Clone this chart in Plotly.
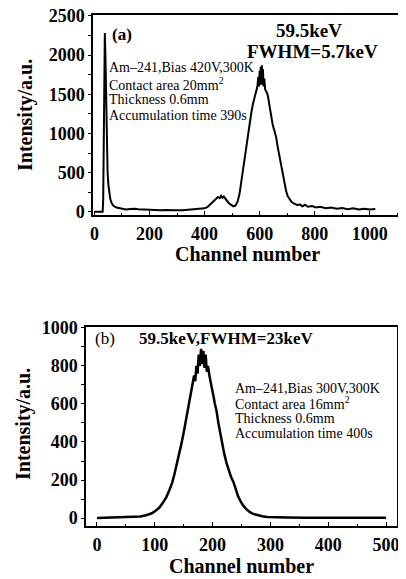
import plotly.graph_objects as go

# ---------------- data: panel (a) ----------------
a_channel = [0, 30, 32, 34, 36, 38, 40, 42, 44, 46, 48, 51, 54, 58, 63, 70, 80, 90, 100,
             115, 130, 145, 160, 180, 200, 220, 240, 260, 280, 300, 320, 340, 360, 380,
             400, 410, 420, 430, 440, 448, 455, 460, 465, 470, 478, 486, 494, 500, 505,
             512, 520, 527, 533, 540, 547, 553, 558, 564, 570, 576, 582, 588, 592, 595,
             598, 600, 602, 604, 606, 608, 610, 612, 614, 617, 620, 625, 630, 636, 642,
             648, 654, 660, 666, 672, 678, 684, 690, 696, 702, 708, 715, 722, 730, 738,
             746, 755, 765, 775, 790, 805, 820, 840, 860, 880, 900, 920, 940, 960, 980,
             1000, 1020]
a_counts = [0, 0, 150, 900, 1900, 2280, 2000, 1450, 950, 680, 500, 340, 240, 160, 110, 75, 55, 45, 35,
            30, 35, 40, 32, 28, 30, 25, 22, 25, 20, 22, 20, 25, 28, 35,
            45, 60, 90, 120, 160, 190, 175, 205, 180, 195, 150, 120, 95, 80, 70,
            80, 130, 230, 380, 560, 750, 900, 1020, 1150, 1270, 1380, 1470, 1520, 1600, 1720,
            1600, 1800, 1650, 1850, 1620, 1870, 1640, 1820, 1600, 1700, 1560, 1530, 1480, 1350, 1200,
            1100, 1030, 950, 820, 700, 580, 470, 360, 270, 200, 160, 130, 110, 100, 85,
            95, 70, 90, 65, 75, 55, 65, 45, 55, 40, 50, 35, 45, 30, 40,
            30, 35]

# ---------------- data: panel (b) ----------------
b_channel = [0, 20, 40, 60, 75, 85, 95, 102, 108, 114, 120, 125, 130, 134, 138, 142, 146, 150,
             154, 158, 162, 165, 168, 170, 172, 174, 176, 178, 180, 182, 184, 186, 188, 190,
             192, 195, 198, 201, 204, 207, 210, 213, 216, 220, 224, 228, 232, 236, 240, 244,
             248, 253, 258, 264, 270, 278, 286, 295, 310, 330, 360, 400, 450, 500]
b_counts = [0, 2, 3, 5, 8, 15, 25, 40, 55, 80, 110, 145, 185, 230, 280, 330, 390, 450,
            520, 590, 650, 700, 750, 720, 800, 760, 860, 800, 890, 810, 880, 790, 860, 770,
            800, 740, 700, 650, 600, 560, 500, 450, 400, 340, 290, 245, 215, 190, 150, 115,
            90, 65, 48, 32, 22, 14, 9, 6, 4, 3, 2, 2, 2, 2]

a_xticks = [0, 200, 400, 600, 800, 1000]
a_yticks = [0, 500, 1000, 1500, 2000, 2500]
b_xticks = [0, 100, 200, 300, 400, 500]
b_yticks = [0, 200, 400, 600, 800, 1000]

# page body has an 8px margin: size the figure to fit and offset coordinates
OFF = 8
W, H = 406 - OFF, 579 - OFF
FONT = "Liberation Serif"

def px(x):
    return (x - OFF) / W

def py(y):
    return 1 - (y - OFF) / H

fig = go.Figure()
fig.add_trace(go.Scatter(x=a_channel, y=a_counts, mode="lines",
                         line=dict(color="black", width=2.0), xaxis="x", yaxis="y",
                         showlegend=False, hoverinfo="skip"))
fig.add_trace(go.Scatter(x=b_channel, y=b_counts, mode="lines",
                         line=dict(color="black", width=2.5), xaxis="x2", yaxis="y2",
                         showlegend=False, hoverinfo="skip"))

tickfont = dict(family=FONT, size=18, color="black", weight="bold")
common = dict(showline=True, linecolor="black", linewidth=1.5, mirror=True,
              showgrid=False, zeroline=False, tickcolor="black", tickwidth=1.2,
              tickfont=tickfont, automargin=False, ticklabeloverflow="allow")

fig.update_layout(
    width=W, height=H,
    margin=dict(l=0, r=0, t=0, b=0),
    paper_bgcolor="white", plot_bgcolor="white",
    xaxis=dict(domain=[px(93), px(399)], range=[-5, 1106], tickvals=a_xticks,
               ticks="inside", ticklen=4, ticklabelstandoff=2,
               minor=dict(dtick=100, ticks="inside", ticklen=2, tickcolor="black"),
               anchor="y", **common),
    yaxis=dict(domain=[py(215), py(15)], range=[-40, 2510], tickvals=a_yticks,
               ticks="outside", ticklen=3,
               minor=dict(dtick=250, ticks="outside", ticklen=3, tickcolor="black"),
               anchor="x", **common),
    xaxis2=dict(domain=[px(86), px(397)], range=[-19, 519], tickvals=b_xticks,
                ticks="inside", ticklen=4, ticklabelstandoff=2,
                minor=dict(dtick=50, ticks="inside", ticklen=2, tickcolor="black"),
                anchor="y2", **common),
    yaxis2=dict(domain=[py(526), py(327)], range=[-42, 1005], tickvals=b_yticks,
                ticks="outside", ticklen=3,
                minor=dict(dtick=100, ticks="outside", ticklen=3, tickcolor="black"),
                anchor="x2", **common),
)

def ann(text, x, y, size, bold=False, xanchor="center", angle=0):
    fig.add_annotation(text=text, x=px(x), y=py(y), xref="paper", yref="paper",
                       xanchor=xanchor, yanchor="middle", showarrow=False, textangle=angle,
                       font=dict(family=FONT, size=size, color="black",
                                 weight="bold" if bold else "normal"))

# panel (a) texts
ann("(a)", 122, 34, 17, bold=True)
ann("59.5keV", 309, 31, 19, bold=True)
ann("FWHM=5.7keV", 312, 52, 19, bold=True)
a_lines = ["Am–241,Bias 420V,300K", "Contact area 20mm<sup>2</sup>",
           "Thickness 0.6mm", "Accumulation time 390s"]
for i, t in enumerate(a_lines):
    ann(t, 107, 68 + 16 * i, 14, xanchor="left")
ann("Channel number", 247, 254, 20, bold=True)
ann("Intensity/a.u.", 25, 115, 20, bold=True, angle=-90)

# panel (b) texts
ann("(b)", 105, 338, 17, bold=False)
ann("59.5keV,FWHM=23keV", 137, 338, 17, bold=True, xanchor="left")
b_lines = ["Am–241,Bias 300V,300K", "Contact area 16mm<sup>2</sup>",
           "Thickness 0.6mm", "Accumulation time 400s"]
for i, t in enumerate(b_lines):
    ann(t, 233, 388 + 15 * i, 14, xanchor="left")
ann("Channel number", 241, 566, 20, bold=True)
ann("Intensity/a.u.", 23, 424, 20, bold=True, angle=-90)

fig.write_html("out.html")
